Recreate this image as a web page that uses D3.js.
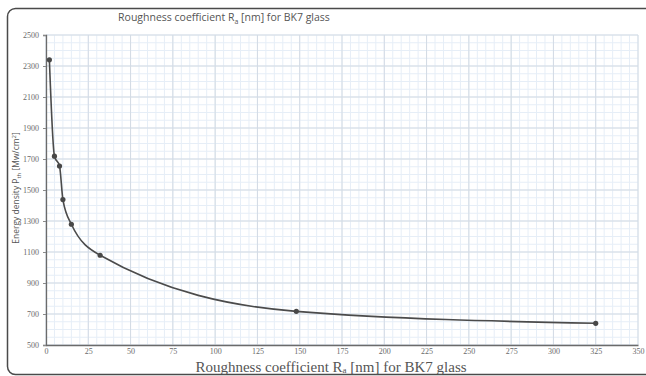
<!DOCTYPE html>
<html>
<head>
<meta charset="utf-8">
<script src="https://cdn.jsdelivr.net/npm/d3@7"></script>
<style>
  html, body { margin: 0; padding: 0; background: #fff; }
  svg { display: block; }
</style>
</head>
<body>
<svg id="chart" width="646" height="376"></svg>
<script>
// Measured roughness (nm) and the corresponding damage energy density
const roughness = [2, 5, 8, 10, 15, 32, 148, 325];
const energyDensity = [2340, 1718, 1655, 1438, 1279, 1079, 717, 640];
const xTicks = [0, 25, 50, 75, 100, 125, 150, 175, 200, 225, 250, 275, 300, 325, 350];
const yTicks = [500, 700, 900, 1100, 1300, 1500, 1700, 1900, 2100, 2300, 2500];

const svg = d3.select("#chart");
const W = 646, H = 376;
const m = { left: 46, right: 8, top: 35, bottom: 31 };

const x = d3.scaleLinear().domain([0, 350]).range([m.left, W - m.right]);
const y = d3.scaleLinear().domain([500, 2500]).range([H - m.bottom, m.top]);

// Outer frame with rounded corners
svg.append("rect")
  .attr("x", 7.5).attr("y", 8.5)
  .attr("width", W + 10).attr("height", 366)
  .attr("rx", 8).attr("ry", 8)
  .attr("fill", "none").attr("stroke", "#4a4a4a").attr("stroke-width", 1.5);

// Minor grid
const g = svg.append("g");
g.selectAll(".vminor").data(d3.range(0, 351, 5)).join("line")
  .attr("x1", d => x(d)).attr("x2", d => x(d))
  .attr("y1", y(500)).attr("y2", y(2500))
  .attr("stroke", "#e6eef7").attr("stroke-width", 1);
g.selectAll(".hminor").data(d3.range(500, 2501, 50)).join("line")
  .attr("y1", d => y(d)).attr("y2", d => y(d))
  .attr("x1", x(0)).attr("x2", x(350))
  .attr("stroke", "#e6eef7").attr("stroke-width", 1);

// Major grid
g.selectAll(".vmajor").data(xTicks).join("line")
  .attr("x1", d => x(d)).attr("x2", d => x(d))
  .attr("y1", y(500)).attr("y2", y(2500))
  .attr("stroke", "#d3dbe4").attr("stroke-width", 1);
g.selectAll(".hmajor").data(yTicks).join("line")
  .attr("y1", d => y(d)).attr("y2", d => y(d))
  .attr("x1", x(0)).attr("x2", x(350))
  .attr("stroke", "#d3dbe4").attr("stroke-width", 1);

// Axes
const xAxis = d3.axisBottom(x).tickValues(xTicks).tickFormat(d3.format("d")).tickSize(0).tickPadding(3);
const yAxis = d3.axisLeft(y).tickValues(yTicks).tickFormat(d3.format("d")).tickSize(3).tickPadding(4);

const gx = svg.append("g").attr("transform", `translate(0,${y(500)})`).call(xAxis);
const gy = svg.append("g").attr("transform", `translate(${x(0)},0)`).call(yAxis);

[gx, gy].forEach(a => {
  a.select(".domain").attr("stroke", "#6b6b6b").attr("stroke-width", 1.3);
  a.selectAll(".tick line").attr("stroke", "#8a8a8a");
  a.selectAll(".tick text")
    .attr("font-family", "'Liberation Serif', 'DejaVu Serif', serif")
    .attr("font-size", 8).attr("fill", "#6a6a6a");
});

// Data curve
const pts = roughness.map((r, i) => [r, energyDensity[i]]);
svg.append("path")
  .datum(pts)
  .attr("fill", "none")
  .attr("stroke", "#4b4b4b").attr("stroke-width", 1.6)
  .attr("d", d3.line().x(d => x(d[0])).y(d => y(d[1])).curve(d3.curveMonotoneX));

svg.selectAll(".pt").data(pts).join("circle")
  .attr("cx", d => x(d[0])).attr("cy", d => y(d[1]))
  .attr("r", 2.6).attr("fill", "#484848");

// Top title
const t = svg.append("text")
  .attr("x", 224).attr("y", 21)
  .attr("text-anchor", "middle")
  .attr("font-family", "'Open Sans', 'Noto Sans', sans-serif")
  .attr("font-size", 10.5).attr("fill", "#555");
t.append("tspan").text("Roughness coefficient R");
t.append("tspan").attr("font-size", 7).attr("dy", 2.5).text("a");
t.append("tspan").attr("dy", -2.5).text(" [nm] for BK7 glass");

// Y axis title
const yt = svg.append("text")
  .attr("transform", "translate(19,188) rotate(-90)")
  .attr("text-anchor", "middle")
  .attr("font-family", "'Open Sans', 'Noto Sans', sans-serif")
  .attr("font-size", 8.5).attr("fill", "#555");
yt.append("tspan").text("Energy density P");
yt.append("tspan").attr("font-size", 6).attr("dy", 2).text("th");
yt.append("tspan").attr("dy", -2).text(" [Mw/cm");
yt.append("tspan").attr("font-size", 6).attr("dy", -3).text("2");
yt.append("tspan").attr("dy", 3).text("]");

// X axis title
const xt = svg.append("text")
  .attr("x", 331).attr("y", 371.5)
  .attr("text-anchor", "middle")
  .attr("font-family", "'Liberation Serif', 'DejaVu Serif', serif")
  .attr("font-size", 15).attr("fill", "#555");
xt.append("tspan").text("Roughness coefficient R");
xt.append("tspan").attr("font-size", 9).attr("dy", 1.5).text("a");
xt.append("tspan").attr("dy", -1.5).text(" [nm] for BK7 glass");
</script>
</body>
</html>
